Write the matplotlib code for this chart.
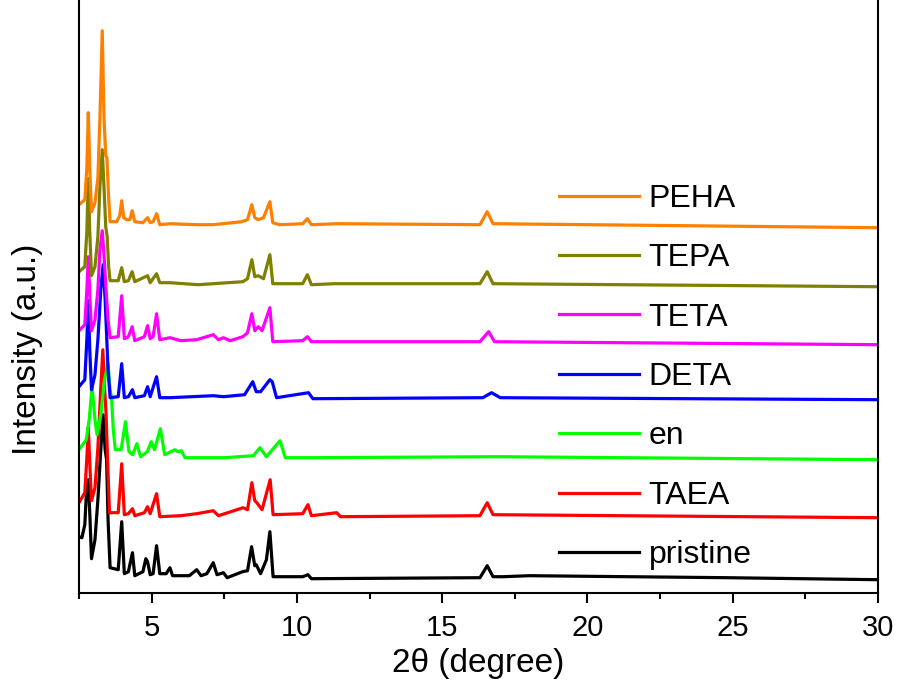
import matplotlib
matplotlib.use("Agg")
import matplotlib.pyplot as plt
from matplotlib.ticker import MultipleLocator

plt.rcParams['font.family'] = ['Liberation Sans', 'DejaVu Sans']

# samples, bottom to top
labels = ["pristine", "TAEA", "en", "DETA", "TETA", "TEPA", "PEHA"]
colors = ["#000000", "#FF0000", "#00FF00", "#0000FF", "#FF00FF", "#808000", "#FF8000"]
offsets = [13, 75, 133, 193, 248, 306, 365]

# traced vertices: 2theta (degree) and intensity above each baseline (a.u.)
pristine_x = [2.50, 2.60, 2.70, 2.76, 2.82, 2.88, 2.93, 3.05, 3.15, 3.25, 3.33, 3.40, 3.45, 3.50, 3.57,
              3.85, 3.97, 4.06, 4.20, 4.34, 4.42, 4.70, 4.80, 4.86, 4.95, 5.05, 5.17, 5.28, 5.50, 5.63,
              5.72, 6.30, 6.55, 6.70, 6.90, 7.12, 7.25, 7.47, 7.60, 8.13, 8.30, 8.44, 8.55, 8.60, 8.75,
              8.95, 9.07, 9.18, 10.2, 10.38, 10.5, 16.3, 16.55, 16.75, 17.1, 18.0, 24.8, 30.0]
pristine_y = [43, 42, 55, 90, 100, 60, 21, 40, 80, 130, 165, 130, 120, 60, 12,
              10, 58, 6, 8, 27, 4, 8, 21, 18, 5, 6, 34, 6, 6, 12,
              4, 4, 10, 4, 6, 17, 5, 7, 2, 8, 9, 33, 14, 15, 6,
              20, 48, 3, 3, 5, 1, 2, 14, 3, 3, 4, 2, 0]

taea_x = [2.50, 2.70, 2.77, 2.82, 2.87, 2.93, 3.05, 3.15, 3.25, 3.32, 3.38, 3.43, 3.48, 3.55,
          3.85, 3.97, 4.06, 4.20, 4.34, 4.42, 4.75, 4.86, 4.95, 5.17, 5.28, 6.0, 6.55, 7.12, 7.3,
          8.15, 8.30, 8.45, 8.55, 8.62, 8.80, 9.08, 9.18, 10.2, 10.38, 10.5, 11.37, 11.5,
          16.3, 16.55, 16.75, 30.0]
taea_y = [15, 25, 60, 90, 55, 17, 30, 70, 130, 168, 130, 105, 60, 5,
          5, 54, 3, 4, 9, 2, 5, 11, 4, 24, 1, 2, 4, 7, 2,
          10, 8, 35, 17, 15, 8, 38, 3, 4, 13, 2, 5, 1,
          2, 15, 3, 0]

en_x = [2.50, 2.75, 2.85, 2.95, 3.05, 3.12, 3.25, 3.38, 3.50, 3.57, 3.62, 3.68, 3.75,
        3.95, 4.10, 4.22, 4.35, 4.49, 4.62, 4.85, 4.99, 5.10, 5.30, 5.45, 5.80, 5.90, 6.02, 6.15,
        7.5, 8.5, 8.73, 8.95, 9.42, 9.6, 10.5, 16.9, 30.0]
en_y = [10, 20, 40, 73, 40, 25, 45, 80, 96, 70, 62, 30, 10,
        10, 38, 8, 5, 16, 3, 8, 18, 10, 31, 5, 10, 8, 9, 2,
        2, 4, 12, 3, 19, 2, 2, 3, 0]

deta_x = [2.50, 2.70, 2.77, 2.82, 2.87, 2.93, 3.05, 3.15, 3.25, 3.33, 3.40, 3.45, 3.50, 3.57,
          3.85, 3.97, 4.06, 4.20, 4.34, 4.42, 4.75, 4.86, 4.95, 5.17, 5.28, 5.63, 7.12, 7.47,
          8.20, 8.48, 8.60, 8.75, 9.07, 9.15, 9.30, 10.4, 10.55, 16.4, 16.7, 17.0, 30.0]
deta_y = [13, 20, 60, 99, 50, 10, 25, 60, 110, 135, 100, 65, 30, 2,
          3, 36, 2, 3, 10, 2, 4, 13, 3, 23, 2, 2, 4, 3,
          5, 18, 8, 8, 20, 18, 2, 7, 1, 2, 7, 2, 0]

teta_x = [2.50, 2.70, 2.77, 2.82, 2.87, 2.93, 3.05, 3.15, 3.22, 3.30, 3.36, 3.42, 3.50, 3.57,
          3.85, 3.97, 4.06, 4.20, 4.33, 4.42, 4.75, 4.86, 4.95, 5.05, 5.17, 5.28, 5.63, 6.0,
          6.55, 7.12, 7.3, 7.47, 7.7, 8.14, 8.30, 8.45, 8.55, 8.67, 8.80, 9.07, 9.17,
          10.2, 10.36, 10.5, 11.3, 16.3, 16.6, 16.8, 30.0]
teta_y = [14, 20, 55, 88, 50, 14, 25, 55, 95, 114, 90, 60, 25, 7,
          8, 49, 6, 8, 18, 4, 8, 19, 6, 8, 31, 5, 7, 4,
          5, 10, 5, 7, 4, 8, 12, 31, 14, 18, 14, 37, 3,
          4, 8, 3, 3, 3, 13, 3, 0]

tepa_x = [2.50, 2.70, 2.77, 2.82, 2.87, 2.93, 3.05, 3.15, 3.22, 3.30, 3.36, 3.42, 3.47, 3.52, 3.57,
          3.85, 3.97, 4.06, 4.20, 4.33, 4.42, 4.86, 4.95, 5.17, 5.28, 5.63, 6.6, 7.12,
          8.14, 8.30, 8.45, 8.55, 8.67, 8.85, 9.07, 9.17, 10.2, 10.36, 10.5, 11.3,
          16.3, 16.55, 16.75, 30.0]
tepa_y = [15, 20, 55, 108, 55, 11, 20, 50, 100, 137, 100, 60, 50, 20, 6,
          6, 19, 5, 6, 15, 5, 11, 4, 13, 4, 4, 2, 3,
          5, 8, 27, 10, 11, 8, 32, 3, 3, 12, 2, 3,
          3, 15, 3, 0]

peha_x = [2.50, 2.70, 2.77, 2.82, 2.87, 2.93, 3.05, 3.15, 3.22, 3.30, 3.36, 3.42, 3.46, 3.52, 3.57,
          3.80, 3.90, 3.97, 4.04, 4.14, 4.25, 4.33, 4.42, 4.70, 4.86, 4.95, 5.05, 5.17, 5.28,
          5.63, 6.55, 7.12, 8.10, 8.30, 8.45, 8.55, 8.67, 8.85, 9.07, 9.17, 9.4,
          10.2, 10.36, 10.5, 11.4, 16.3, 16.55, 16.75, 30.0]
peha_y = [23, 28, 60, 115, 60, 16, 25, 50, 110, 197, 110, 72, 70, 30, 6,
          6, 12, 27, 10, 8, 8, 17, 6, 5, 10, 5, 6, 14, 3,
          4, 3, 3, 6, 8, 23, 10, 8, 10, 26, 5, 3,
          4, 9, 3, 4, 3, 16, 4, 0]

xs = [pristine_x, taea_x, en_x, deta_x, teta_x, tepa_x, peha_x]
ys = [pristine_y, taea_y, en_y, deta_y, teta_y, tepa_y, peha_y]

fig = plt.figure(figsize=(8.98, 6.81), dpi=100)
ax = fig.add_axes([79 / 898, 88.3 / 681, 799 / 898, 592.7 / 681])

lines = []
for x, y, off, c, lab in zip(xs, ys, offsets, colors, labels):
    ln, = ax.plot(x, [v + off for v in y], color=c, lw=2.3, label=lab, solid_joinstyle='round')
    lines.append(ln)

ax.set_xlim(2.5, 30)
ax.set_ylim(0, 592.7)
ax.xaxis.set_major_locator(MultipleLocator(5))
ax.xaxis.set_minor_locator(MultipleLocator(2.5))
ax.tick_params(axis='x', which='major', length=7.5, width=1.5, labelsize=21, pad=8, direction='out')
ax.tick_params(axis='x', which='minor', length=4, width=1.5, direction='out')
ax.set_yticks([])
ax.spines['top'].set_visible(False)
for s in ['left', 'bottom', 'right']:
    ax.spines[s].set_linewidth(1.5)

ax.set_xlabel("2\u03b8 (degree)", fontsize=24, labelpad=4)
ax.set_ylabel("Intensity (a.u.)", fontsize=24)
ax.yaxis.set_label_coords(-0.045, 0.41)

ax.legend(lines[::-1], labels[::-1], loc='upper left', bbox_to_anchor=(0.601, 0.69),
          frameon=False, fontsize=23, handlelength=2.5, handletextpad=0.3,
          labelspacing=0.92, borderpad=0, borderaxespad=0)

fig.savefig("out.png", dpi=100)
